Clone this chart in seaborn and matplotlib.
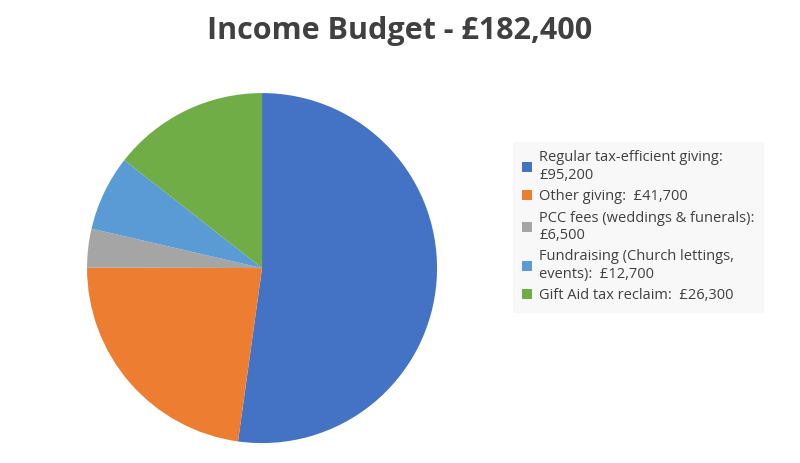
import matplotlib
matplotlib.use("Agg")
import matplotlib.pyplot as plt
import seaborn as sns

sns.set_style("white")
plt.rcParams['font.family'] = ['Open Sans', 'DejaVu Sans']

categories = ["Regular tax-efficient giving:\n£95,200", "Other giving:  £41,700",
              "PCC fees (weddings & funerals):\n£6,500", "Fundraising (Church lettings,\nevents):  £12,700",
              "Gift Aid tax reclaim:  £26,300"]
values = [95200, 41700, 6500, 12700, 26300]
colors = ["#4472C4", "#ED7D31", "#A5A5A5", "#5B9BD5", "#70AD47"]

fig = plt.figure(figsize=(8, 4.63), dpi=100)
ax = fig.add_axes([0.1088, 0.043, 0.4375, 0.756])
wedges, _ = ax.pie(values, colors=colors, startangle=90, counterclock=False,
                   wedgeprops=dict(linewidth=0))
ax.set_xlim(-1, 1)
ax.set_ylim(-1, 1)
ax.set_aspect('equal')
fig.suptitle("Income Budget - £182,400", x=0.5, y=0.965, fontsize=22,
             fontweight='bold', color='#404040')
leg = fig.legend(wedges, categories, loc='upper left', bbox_to_anchor=(0.632, 0.71),
                 frameon=True, fontsize=10.5, handlelength=0.7, handleheight=0.7,
                 labelspacing=0.45, borderpad=0.6, handletextpad=0.5, labelcolor='#404040')
leg.get_frame().set_facecolor('#F7F7F7')
leg.get_frame().set_edgecolor('#F7F7F7')
fig.savefig("out.png", dpi=100)
